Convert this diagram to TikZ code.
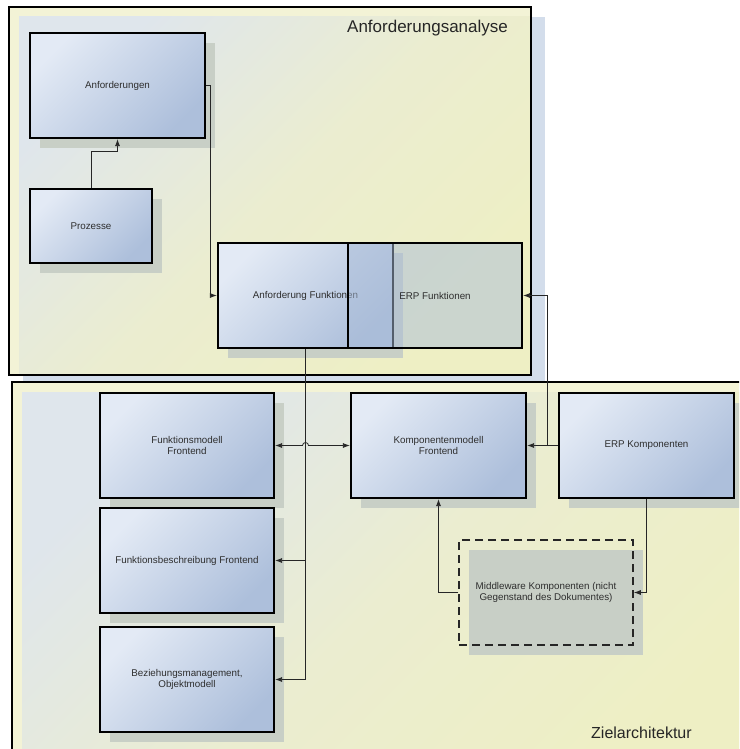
\documentclass[tikz,border=0pt]{standalone}
\usepackage{fontspec}
\setmainfont{Liberation Sans}
\usetikzlibrary{arrows.meta,shadows,calc}
\definecolor{boxtop}{HTML}{E3EAF5}
\definecolor{boxbot}{HTML}{ADBFDB}
\definecolor{shad}{HTML}{C8CFC6}
\definecolor{txt}{HTML}{2E2E2E}
\definecolor{rim}{HTML}{F3F3D6}
\definecolor{ctop}{HTML}{DFE6EC}
\definecolor{cmid}{HTML}{EBEDD0}
\definecolor{cbot}{HTML}{EEEFC4}
\definecolor{cshad}{HTML}{D3DDEB}
\definecolor{conn}{HTML}{262626}
\definecolor{erpfill}{HTML}{A9BCD8}
\tikzset{
  box/.style={draw=black, line width=2.2pt, rectangle, inner sep=2pt,
    top color=boxtop, bottom color=boxbot, shading angle=45,
    align=center, font=\fontsize{9.8}{11.5}\selectfont, text=txt,
    minimum width=174pt, minimum height=105pt,
    drop shadow={shadow xshift=10pt, shadow yshift=-10pt, fill=shad, opacity=1}},
  erpbox/.style={draw=black, line width=2.2pt, rectangle, inner sep=2pt,
    fill=erpfill, fill opacity=0.5, text opacity=1,
    align=center, font=\fontsize{9.8}{11.5}\selectfont, text=txt,
    minimum width=174pt, minimum height=105pt},
  dashbox/.style={draw=black!85, line width=1.6pt, dash pattern=on 8pt off 5pt,
    rectangle, inner sep=2pt, align=center,
    font=\fontsize{9.8}{11.5}\selectfont, text=txt,
    minimum width=174pt, minimum height=105pt,
    drop shadow={shadow xshift=10pt, shadow yshift=-10pt, fill=shad, opacity=1}},
  conline/.style={draw=conn, line width=0.8pt},
  arr/.style={conline, -{Latex[length=7pt,width=5pt]}},
  arrs/.style={conline, {Latex[length=7pt,width=5pt]}-{Latex[length=7pt,width=5pt]}},
  title/.style={anchor=base west, inner sep=0pt, font=\fontsize{16}{18}\selectfont, text=black!85}
}
\begin{document}
\begin{tikzpicture}[x=1pt,y=-1pt]
\useasboundingbox (0,0) rectangle (739,749);
\clip (0,0) rectangle (739,749);
\fill[white] (0,0) rectangle (739,749);

% top container
\fill[cshad] (23,17) rectangle (545,386);
\fill[rim] (9,7) rectangle (531,375);
\shade[top color=ctop, bottom color=cbot, middle color=cmid, shading angle=45] (19,17) rectangle (531,375);
\draw[line width=2.4pt] (9,7) rectangle (531,375);

% bottom container
\fill[rim] (12,382) rectangle (770,780);
\shade[top color=ctop, bottom color=cbot, middle color=cmid, shading angle=45] (22,392) rectangle (770,780);
\draw[line width=2.4pt] (12,382) rectangle (770,780);

\node[title, font=\fontsize{17}{19}\selectfont] (t1) at (347,33) {Anforderungsanalyse};
\node[title] (t2) at (591,738) {Zielarchitektur};

% boxes
\node[box, minimum width=175pt] (an) at (117.5,85.5) {Anforderungen};
\node[box, minimum width=122pt, minimum height=74pt] (pz) at (91,226) {Prozesse};
\node[box, minimum width=175pt] (af) at (305.5,295.5) {Anforderung Funktionen};
\node[erpbox] (ef) at (435,295.5) {ERP Funktionen};

\node[box] (fm) at (187,445.5) {Funktionsmodell\\Frontend};
\node[box] (fb) at (187,560.5) {Funktionsbeschreibung Frontend};
\node[box] (bz) at (187,679.5) {Beziehungsmanagement,\\Objektmodell};
\node[box, minimum width=175pt] (km) at (438.5,445.5) {Komponentenmodell\\Frontend};
\node[box, minimum width=175pt] (ek) at (646.5,445.5) {ERP Komponenten};
\node[dashbox] (mw) at (546,592.5) {Middleware Komponenten (nicht\\Gegenstand des Dokumentes)};

% connectors
\draw[arr] (pz.north) -- ++(0,-37) -| (an.south);
\draw[arr] (an.east) -- ++(4,0) |- (af.west);
\coordinate (j1) at ($(ek.west)+(-11,0)$);
\draw[arr] (ek.west) -- (km.east);
\draw[arr] (j1) |- (ef.east);
\coordinate (jx) at (af.south |- fm.east);
\draw[arrs] (fm.east) -- ($(jx)+(-3,0)$) arc[start angle=180, end angle=0, radius=3pt] -- (km.west);
\draw[arr] (af.south) |- (bz.east);
\draw[arr] (af.south |- fb.east) -- (fb.east);
\draw[arr] (mw.west) -| (km.south);
\draw[arr] (ek.south) |- (mw.east);
\end{tikzpicture}
\end{document}
